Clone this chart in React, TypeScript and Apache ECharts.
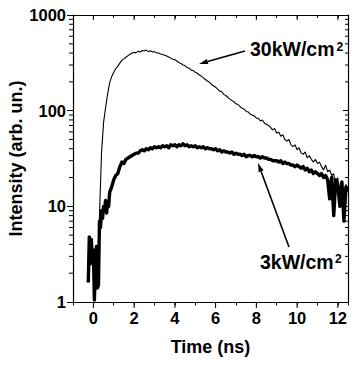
import React, { useEffect, useRef } from 'react';
import * as echarts from 'echarts';

// ---- data ----
const X_MIN = -1;
const X_MAX = 12.5;
const Y_MIN = 1;
const Y_MAX = 1000;

// 30 kW/cm2 trace, sampled every 0.1 ns starting at 0 ns
const T30_START = 0;
const T30_STEP = 0.1;
const intensity30 = [
  2.2, 3.0, 2.4, 8, 36, 75, 108, 150, 195, 228,
  252, 276, 292, 314, 336, 348, 362, 376, 388, 400,
  406, 404, 418, 410, 426, 420, 430, 414, 422, 410,
  414, 402, 400, 392, 386, 380, 372, 364, 354, 344,
  340, 330, 318, 312, 300, 296, 282, 278, 266, 262,
  252, 246, 236, 230, 220, 212, 204, 198, 188, 182,
  176, 168, 160, 158, 148, 144, 138, 132, 128, 124,
  118, 116, 110, 106, 104, 98, 97, 92, 90, 88,
  84, 83, 78, 80, 74, 72, 70, 67, 63, 65,
  58, 60, 54, 56, 50, 48, 50, 44, 42, 44,
  39, 41, 36, 35, 37, 32, 34, 31, 29, 31,
  28, 29, 26, 24, 27, 23, 24, 21, 22, 14,
  20, 10, 18, 13, 17, 14,
];

// 3 kW/cm2 trace: noisy onset (irregular samples) ...
const time3Early = [
  -0.25, -0.2, -0.15, -0.1, -0.05, 0, 0.05, 0.1, 0.15, 0.2, 0.25,
  0.3, 0.35, 0.4, 0.45, 0.5, 0.55, 0.6, 0.65, 0.7, 0.75, 0.8,
];
const intensity3Early = [
  1.6, 4.8, 2.5, 4.5, 2.7, 3.5, 1.05, 2.5, 3.8, 1.4, 1.5,
  7, 6, 9, 7.5, 10, 9, 11.5, 8.5, 11, 10, 14,
];
// ... then every 0.1 ns from 0.9 ns
const T3_START = 0.9;
const T3_STEP = 0.1;
const intensity3 = [
  16, 19, 21, 22, 26, 29, 28, 31, 32, 33, 34,
  35, 36, 36, 38, 39, 38, 40, 39, 41, 40,
  42, 41, 42, 41, 43, 42, 43, 41, 44, 43,
  44, 42, 44, 43, 45, 43, 44, 42, 43, 42,
  43, 41, 42, 41, 42, 40, 41, 40, 40, 39,
  40, 38, 39, 37, 38, 37, 37, 36, 37, 35,
  36, 35, 35, 34, 35, 33, 34, 34, 33, 34,
  33, 33, 32, 33, 32, 32, 31, 31, 30, 30,
  30, 29, 30, 28, 29, 28, 28, 27, 27, 26,
  27, 26, 25, 26, 24, 25, 23, 24, 22, 23,
  22, 21, 22, 20, 21, 19, 12, 20, 8, 19,
  17, 10, 18, 7, 16, 15,
];

const xMajorTicks = [0, 2, 4, 6, 8, 10, 12];
const yMinorTicks = [
  2, 3, 4, 5, 6, 7, 8, 9,
  20, 30, 40, 50, 60, 70, 80, 90,
  200, 300, 400, 500, 600, 700, 800, 900,
];

const label30 = '30kW/cm';
const label3 = '3kW/cm';
const superscript = '2';
const xName = 'Time (ns)';
const yName = 'Intensity (arb. un.)';

const FONT = '"Liberation Sans", Arial, Helvetica, sans-serif';

function regular(start: number, step: number, values: number[]) {
  return values.map((v, i) => [Number((start + i * step).toFixed(3)), v]);
}

function arrow(x0: number, y0: number, x1: number, y1: number) {
  const dx = x1 - x0;
  const dy = y1 - y0;
  const len = Math.sqrt(dx * dx + dy * dy);
  const ux = dx / len;
  const uy = dy / len;
  const hl = 9;
  const hw = 2.6;
  const bx = x1 - ux * hl;
  const by = y1 - uy * hl;
  return [
    {
      type: 'line',
      shape: { x1: x0, y1: y0, x2: bx, y2: by },
      style: { stroke: '#000', lineWidth: 1.6 },
      silent: true,
    },
    {
      type: 'polygon',
      shape: {
        points: [
          [x1, y1],
          [bx - uy * hw, by + ux * hw],
          [bx + uy * hw, by - ux * hw],
        ],
      },
      style: { fill: '#000' },
      silent: true,
    },
  ];
}

export default function App() {
  const ref = useRef<HTMLDivElement>(null);

  useEffect(() => {
    if (!ref.current) return;
    const chart = echarts.init(ref.current, null, { renderer: 'svg' });

    const data30 = regular(T30_START, T30_STEP, intensity30);
    const data3 = time3Early
      .map((t, i) => [t, intensity3Early[i]])
      .concat(regular(T3_START, T3_STEP, intensity3));

    const labelStyle = {
      color: '#000',
      fontFamily: FONT,
      fontWeight: 'bold' as const,
      fontSize: 16.5,
    };
    const nameStyle = { ...labelStyle, fontSize: 18 };

    const option: any = {
      animation: false,
      backgroundColor: '#fff',
      grid: {
        left: 73,
        top: 15,
        right: 6,
        bottom: 63,
        containLabel: false,
        outerBoundsMode: 'none',
      },
      xAxis: [
        {
          type: 'value',
          min: X_MIN,
          max: X_MAX,
          interval: 1,
          position: 'bottom',
          name: xName,
          nameLocation: 'middle',
          nameGap: 36,
          nameMoveOverlap: false,
          nameTextStyle: nameStyle,
          axisLine: { show: true, onZero: false, lineStyle: { color: '#000', width: 1.2 } },
          axisTick: { show: true, inside: false, length: 3.5, lineStyle: { color: '#000' } },
          axisLabel: {
            ...labelStyle,
            margin: 7,
            formatter: (v: number) => (Math.abs(v % 2) < 1e-9 ? String(v) : ''),
          },
          splitLine: { show: false },
        },
        {
          type: 'value',
          min: X_MIN,
          max: X_MAX,
          interval: 1,
          position: 'top',
          axisLine: { show: true, onZero: false, lineStyle: { color: '#000', width: 1.2 } },
          axisTick: { show: true, inside: true, length: 3, lineStyle: { color: '#000' } },
          axisLabel: { show: false },
          splitLine: { show: false },
        },
      ],
      yAxis: [
        {
          type: 'log',
          logBase: 10,
          min: Y_MIN,
          max: Y_MAX,
          position: 'left',
          name: yName,
          nameLocation: 'middle',
          nameGap: 48,
          nameMoveOverlap: false,
          nameRotate: 90,
          nameTextStyle: nameStyle,
          axisLine: { show: true, onZero: false, lineStyle: { color: '#000', width: 1.2 } },
          axisTick: { show: true, inside: false, length: 6, lineStyle: { color: '#000' } },
          axisLabel: {
            ...labelStyle,
            margin: 7,
            formatter: (v: number) => String(Math.round(v)),
          },
          splitLine: { show: false },
          minorTick: { show: false },
        },
        {
          type: 'log',
          logBase: 10,
          min: Y_MIN,
          max: Y_MAX,
          position: 'right',
          axisLine: { show: true, onZero: false, lineStyle: { color: '#000', width: 1.2 } },
          axisTick: { show: true, inside: true, length: 5, lineStyle: { color: '#000' } },
          axisLabel: { show: false },
          splitLine: { show: false },
        },
      ],
      series: [
        {
          name: '3kW/cm2',
          type: 'line',
          data: data3,
          showSymbol: false,
          symbol: 'none',
          lineStyle: { color: '#000', width: 3.4, join: 'round' },
          z: 2,
        },
        {
          name: '30kW/cm2',
          type: 'line',
          data: data30,
          showSymbol: false,
          symbol: 'none',
          lineStyle: { color: '#000', width: 1.1 },
          z: 3,
        },
        {
          name: 'y minor ticks',
          type: 'custom',
          silent: true,
          clip: false,
          data: yMinorTicks.map((v) => [X_MIN, v]),
          renderItem: (params: any, api: any) => {
            const l = api.coord([X_MIN, api.value(1)]);
            const r = api.coord([X_MAX, api.value(1)]);
            return {
              type: 'group',
              children: [
                {
                  type: 'line',
                  shape: { x1: l[0] - 4, y1: l[1], x2: l[0], y2: l[1] },
                  style: { stroke: '#000', lineWidth: 1 },
                },
                {
                  type: 'line',
                  shape: { x1: r[0] - 3, y1: r[1], x2: r[0], y2: r[1] },
                  style: { stroke: '#000', lineWidth: 1 },
                },
              ],
            };
          },
          z: 4,
        },
        {
          name: 'x major ticks',
          type: 'custom',
          silent: true,
          clip: false,
          data: xMajorTicks.map((v) => [v, Y_MIN]),
          renderItem: (params: any, api: any) => {
            const b = api.coord([api.value(0), Y_MIN]);
            const t = api.coord([api.value(0), Y_MAX]);
            return {
              type: 'group',
              children: [
                {
                  type: 'line',
                  shape: { x1: b[0], y1: b[1], x2: b[0], y2: b[1] + 6 },
                  style: { stroke: '#000', lineWidth: 1 },
                },
                {
                  type: 'line',
                  shape: { x1: t[0], y1: t[1], x2: t[0], y2: t[1] + 5 },
                  style: { stroke: '#000', lineWidth: 1 },
                },
              ],
            };
          },
          z: 4,
        },
      ],
      graphic: [
        ...arrow(245, 51, 199, 64),
        ...arrow(289, 247, 258, 163),
        {
          type: 'text',
          x: 250,
          y: 49,
          silent: true,
          style: {
            text: label30,
            font: `bold 19.5px ${FONT}`,
            fill: '#000',
            verticalAlign: 'middle',
            align: 'left',
          },
        },
        {
          type: 'text',
          x: 336.5,
          y: 46.5,
          silent: true,
          style: {
            text: superscript,
            font: `bold 12px ${FONT}`,
            fill: '#000',
            verticalAlign: 'middle',
            align: 'left',
          },
        },
        {
          type: 'text',
          x: 260,
          y: 262,
          silent: true,
          style: {
            text: label3,
            font: `bold 19.5px ${FONT}`,
            fill: '#000',
            verticalAlign: 'middle',
            align: 'left',
          },
        },
        {
          type: 'text',
          x: 335,
          y: 258.5,
          silent: true,
          style: {
            text: superscript,
            font: `bold 12px ${FONT}`,
            fill: '#000',
            verticalAlign: 'middle',
            align: 'left',
          },
        },
      ],
    };

    chart.setOption(option);
    return () => {
      chart.dispose();
    };
  }, []);

  return (
    <div
      ref={ref}
      style={{ position: 'fixed', left: 0, top: 0, width: 354, height: 365, background: '#fff' }}
    />
  );
}
